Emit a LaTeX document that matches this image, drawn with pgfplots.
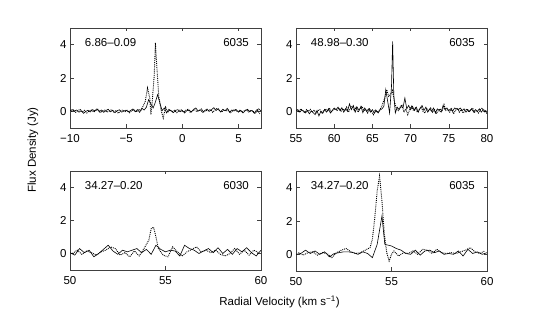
\documentclass[border=0pt]{standalone}
\usepackage{fontspec}
\setmainfont{Liberation Sans}
\usepackage{pgfplots}
\pgfplotsset{compat=1.18}
\newcommand{\fs}{\fontsize{11.5}{13}\selectfont}
\pgfplotsset{
  panel/.style={
    scale only axis, width=191pt, height=100pt, anchor=south west,
    ymin=-1, ymax=5, ytick={0,2,4},
    axis line style={black!75, line width=0.6pt},
    tick style={black!75, line width=0.6pt},
    major tick length=3.5pt,
    tick label style={font=\fs},
    xticklabel style={yshift=-3pt},
    /pgf/number format/assume math mode=true,
    clip=true,
  },
  sol/.style={black, line width=0.6pt, mark=none},
  dot/.style={black, densely dotted, line width=0.9pt, mark=none},
}
\begin{document}
\begin{tikzpicture}
\useasboundingbox (0pt,0pt) rectangle (539pt,312pt);
% ---------- panel 1 ----------
\begin{axis}[panel, at={(70pt,184pt)}, xmin=-10, xmax=7, xtick={-10,-5,0,5}, xticklabels={−10,−5,0,5}]
\addplot[sol] coordinates {
(-10.0,0.05) (-9.8,0.10) (-9.6,0.02) (-9.4,0.08) (-9.2,-0.05) (-9.0,0.04) (-8.8,-0.12) (-8.6,0.00) (-8.4,0.06) (-8.2,-0.04)
(-8.0,0.10) (-7.8,0.03) (-7.6,0.15) (-7.4,-0.02) (-7.2,0.08) (-7.0,-0.06) (-6.8,0.05) (-6.6,0.12) (-6.4,-0.03) (-6.2,0.06)
(-6.0,-0.08) (-5.8,0.04) (-5.6,0.09) (-5.4,-0.05) (-5.2,0.02) (-5.0,0.07) (-4.8,-0.04) (-4.6,0.05) (-4.4,0.14) (-4.2,-0.02)
(-4.0,0.10) (-3.8,-0.06) (-3.6,0.18) (-3.4,0.08) (-3.2,0.25) (-3.0,0.70) (-2.8,0.45) (-2.6,0.20) (-2.4,0.55) (-2.2,1.00)
(-2.0,0.50) (-1.8,0.05) (-1.6,0.20) (-1.4,-0.10) (-1.2,0.12) (-1.0,0.03) (-0.8,-0.08) (-0.6,0.06) (-0.4,0.10) (-0.2,-0.03)
(0.0,0.05) (0.2,-0.10) (0.4,0.04) (0.6,0.08) (0.8,-0.05) (1.0,0.12) (1.2,0.20) (1.4,0.02) (1.6,0.09) (1.8,-0.06)
(2.0,0.05) (2.2,0.14) (2.4,0.00) (2.6,0.10) (2.8,0.22) (3.0,0.05) (3.2,0.16) (3.4,-0.04) (3.6,0.12) (3.8,0.03)
(4.0,0.18) (4.2,-0.06) (4.4,0.08) (4.6,0.02) (4.8,0.10) (5.0,-0.05) (5.2,0.06) (5.4,-0.10) (5.6,0.04) (5.8,0.12)
(6.0,-0.02) (6.2,0.05) (6.4,-0.12) (6.6,0.08) (6.8,0.15) (7.0,0.02)};
\addplot[dot] coordinates {
(-9.9,0.00) (-9.7,0.08) (-9.5,-0.06) (-9.3,0.04) (-9.1,0.12) (-8.9,-0.04) (-8.7,0.06) (-8.5,-0.10) (-8.3,0.02) (-8.1,0.09)
(-7.9,-0.05) (-7.7,0.04) (-7.5,0.11) (-7.3,-0.08) (-7.1,0.03) (-6.9,0.07) (-6.7,-0.05) (-6.5,0.02) (-6.3,0.10) (-6.1,-0.04)
(-5.9,0.05) (-5.7,-0.12) (-5.5,0.03) (-5.3,0.08) (-5.1,-0.02) (-4.9,0.06) (-4.7,-0.08) (-4.5,0.04) (-4.3,0.09) (-4.1,-0.05)
(-3.9,0.12) (-3.7,0.05) (-3.5,0.30) (-3.3,0.60) (-3.1,1.40) (-2.9,0.80) (-2.8,-0.20) (-2.7,0.40) (-2.5,2.20) (-2.4,4.10) (-2.3,3.00)
(-2.1,0.90) (-1.9,0.10) (-1.7,-0.40) (-1.5,0.25) (-1.3,-0.05) (-1.1,0.08) (-0.9,-0.02) (-0.7,0.06) (-0.5,-0.08) (-0.3,0.04)
(-0.1,0.10) (0.1,-0.04) (0.3,0.06) (0.5,0.12) (0.7,-0.06) (0.9,0.03) (1.1,0.09) (1.3,-0.02) (1.5,0.05) (1.7,0.14)
(1.9,-0.04) (2.1,0.06) (2.3,0.02) (2.5,0.11) (2.7,-0.06) (2.9,0.08) (3.1,0.18) (3.3,0.04) (3.5,-0.05) (3.7,0.10)
(3.9,0.02) (4.1,0.08) (4.3,-0.08) (4.5,0.05) (4.7,0.12) (4.9,-0.03) (5.1,0.06) (5.3,-0.06) (5.5,0.03) (5.7,0.09)
(5.9,-0.04) (6.1,0.07) (6.3,0.00) (6.5,-0.10) (6.7,0.05) (6.9,-0.15)};
\node[font=\fs, anchor=west] at (axis description cs:0.06,0.85) {6.86–0.09};
\node[font=\fs, anchor=east] at (axis description cs:0.955,0.85) {6035};
\end{axis}
% ---------- panel 2 ----------
\begin{axis}[panel, at={(296pt,184pt)}, xmin=55, xmax=80, xtick={55,60,65,70,75,80}]
\addplot[sol] coordinates {
(55.00,0.05) (55.25,0.10) (55.50,-0.05) (55.75,0.08) (56.00,0.00) (56.25,-0.10) (56.50,0.05) (56.75,-0.15) (57.00,0.02) (57.25,-0.08)
(57.50,-0.20) (57.75,0.05) (58.00,-0.28) (58.25,0.00) (58.50,-0.12) (58.75,0.10) (59.00,-0.05) (59.25,0.15) (59.50,-0.10) (59.75,0.05)
(60.00,0.20) (60.25,0.10) (60.50,0.25) (60.75,0.05) (61.00,0.22) (61.25,-0.05) (61.50,0.15) (61.75,0.00) (62.00,0.45) (62.25,0.10)
(62.50,0.35) (62.75,-0.05) (63.00,0.25) (63.25,0.05) (63.50,0.30) (63.75,-0.08) (64.00,0.20) (64.25,0.00) (64.50,0.15) (64.75,-0.05)
(65.00,0.10) (65.25,-0.12) (65.50,0.05) (65.75,-0.10) (66.00,0.08) (66.25,0.15) (66.50,0.30) (66.75,1.30) (67.00,0.60) (67.25,-0.10)
(67.50,1.50) (67.65,4.20) (67.80,1.00) (68.00,-0.10) (68.25,0.25) (68.50,0.10) (68.75,0.30) (69.00,0.20) (69.25,0.80) (69.50,0.15)
(69.75,0.35) (70.00,0.10) (70.25,0.30) (70.50,0.05) (70.75,0.25) (71.00,-0.05) (71.25,0.20) (71.50,0.35) (71.75,0.05) (72.00,0.25)
(72.25,-0.05) (72.50,0.15) (72.75,0.00) (73.00,0.20) (73.25,-0.10) (73.50,0.15) (73.75,0.05) (74.00,-0.05) (74.25,0.35) (74.50,0.10)
(74.75,0.20) (75.00,0.05) (75.25,0.15) (75.50,0.00) (75.75,0.20) (76.00,0.15) (76.25,0.10) (76.50,0.20) (76.75,0.05) (77.00,0.15)
(77.25,-0.05) (77.50,0.10) (77.75,0.00) (78.00,0.15) (78.25,-0.05) (78.50,0.10) (78.75,0.00) (79.00,0.15) (79.25,-0.05) (79.50,0.10)
(79.75,0.05) (80.00,-0.15)};
\addplot[dot] coordinates {
(55.125,0.10) (55.375,-0.05) (55.625,0.15) (55.875,0.05) (56.125,-0.08) (56.375,0.10) (56.625,0.00) (56.875,0.12) (57.125,-0.05) (57.375,0.08)
(57.625,-0.10) (57.875,0.05) (58.125,0.10) (58.375,-0.08) (58.625,0.05) (58.875,0.15) (59.125,0.00) (59.375,0.20) (59.625,-0.05) (59.875,0.10)
(60.125,0.15) (60.375,0.05) (60.625,0.20) (60.875,-0.02) (61.125,0.15) (61.375,0.05) (61.625,0.25) (61.875,-0.05) (62.125,0.20) (62.375,0.30)
(62.625,0.05) (62.875,0.25) (63.125,-0.05) (63.375,0.15) (63.625,0.30) (63.875,0.05) (64.125,0.10) (64.375,-0.10) (64.625,0.15) (64.875,0.00)
(65.125,-0.20) (65.375,0.10) (65.625,-0.05) (65.875,0.05) (66.125,0.20) (66.375,0.50) (66.625,0.80) (66.875,1.30) (67.125,0.90) (67.375,1.00)
(67.625,1.25) (67.875,0.60) (68.125,0.20) (68.375,0.05) (68.625,0.25) (68.875,0.40) (69.125,-0.05) (69.375,0.15) (69.625,-0.20) (69.875,0.10)
(70.125,0.30) (70.375,0.05) (70.625,0.20) (70.875,-0.05) (71.125,0.10) (71.375,0.25) (71.625,0.00) (71.875,-0.10) (72.125,0.15) (72.375,0.05)
(72.625,0.20) (72.875,-0.05) (73.125,0.10) (73.375,-0.15) (73.625,0.05) (73.875,0.15) (74.125,0.00) (74.375,0.40) (74.625,0.05) (74.875,0.10)
(75.125,-0.05) (75.375,0.15) (75.625,-0.15) (75.875,0.05) (76.125,0.20) (76.375,-0.05) (76.625,0.10) (76.875,-0.10) (77.125,0.05) (77.375,0.15)
(77.625,-0.05) (77.875,0.10) (78.125,0.20) (78.375,-0.05) (78.625,0.05) (78.875,-0.10) (79.125,0.10) (79.375,0.20) (79.625,-0.05) (79.875,0.05)};
\node[font=\fs, anchor=west] at (axis description cs:0.06,0.85) {48.98–0.30};
\node[font=\fs, anchor=east] at (axis description cs:0.955,0.85) {6035};
\end{axis}
% ---------- panel 3 ----------
\begin{axis}[panel, at={(70pt,42pt)}, height=99pt, xmin=50, xmax=60, xtick={50,55,60}]
\addplot[sol] coordinates {
(50.00,0.05) (50.25,-0.10) (50.50,0.30) (50.75,0.05) (51.00,0.20) (51.25,-0.20) (51.50,0.00) (51.75,0.25) (52.00,0.50) (52.25,0.15)
(52.50,-0.05) (52.75,0.20) (53.00,0.10) (53.25,0.20) (53.50,0.30) (53.75,0.05) (54.00,0.25) (54.25,-0.05) (54.50,0.50) (54.75,0.25)
(55.00,0.10) (55.25,0.20) (55.50,0.15) (55.75,-0.15) (56.00,0.50) (56.25,0.30) (56.50,0.20) (56.75,0.00) (57.00,0.15) (57.25,0.30)
(57.50,0.05) (57.75,0.35) (58.00,0.00) (58.25,0.25) (58.50,-0.05) (58.75,0.30) (59.00,0.10) (59.25,0.35) (59.50,0.05) (59.75,-0.15)
(60.00,0.20)};
\addplot[dot] coordinates {
(50.125,0.00) (50.375,0.20) (50.625,-0.05) (50.875,0.15) (51.125,0.05) (51.375,-0.10) (51.625,0.10) (51.875,0.20) (52.125,0.40) (52.375,0.30)
(52.625,-0.10) (52.875,0.05) (53.125,-0.20) (53.375,0.15) (53.625,-0.15) (53.875,0.30) (54.125,0.80) (54.25,1.50) (54.375,1.60) (54.50,1.00)
(54.625,0.30) (54.875,-0.10) (55.125,-0.20) (55.375,0.40) (55.625,0.10) (55.875,-0.15) (56.125,0.10) (56.375,0.25) (56.625,0.40) (56.875,0.10)
(57.125,0.20) (57.375,0.05) (57.625,0.20) (57.875,-0.05) (58.125,-0.15) (58.375,0.00) (58.625,0.30) (58.875,-0.05) (59.125,0.20) (59.375,-0.10)
(59.625,0.20) (59.875,0.05)};
\node[font=\fs, anchor=west] at (axis description cs:0.06,0.85) {34.27–0.20};
\node[font=\fs, anchor=east] at (axis description cs:0.955,0.85) {6030};
\end{axis}
% ---------- panel 4 ----------
\begin{axis}[panel, at={(296pt,41pt)}, xmin=50, xmax=60, xtick={50,55,60}]
\addplot[sol] coordinates {
(50.00,0.00) (50.25,0.05) (50.50,0.25) (50.75,0.05) (51.00,0.20) (51.25,0.00) (51.50,0.15) (51.75,-0.15) (52.00,0.05) (52.25,0.10)
(52.50,0.15) (52.75,0.15) (53.00,0.10) (53.25,0.00) (53.50,0.15) (53.75,0.05) (54.00,-0.20) (54.25,0.60) (54.50,2.30) (54.65,0.60)
(55.00,0.50) (55.25,0.35) (55.50,0.25) (55.75,0.05) (56.00,0.00) (56.25,0.25) (56.50,-0.05) (56.75,0.20) (57.00,0.25) (57.25,0.10)
(57.50,0.20) (57.75,0.00) (58.00,0.05) (58.25,0.00) (58.50,0.20) (58.75,-0.10) (59.00,0.30) (59.25,0.05) (59.50,0.15) (59.75,0.00)
(60.00,0.10)};
\addplot[dot] coordinates {
(50.125,0.10) (50.375,-0.05) (50.625,0.10) (50.875,0.15) (51.125,-0.05) (51.375,0.10) (51.625,0.05) (51.875,-0.20) (52.125,0.10) (52.375,0.25)
(52.625,0.35) (52.875,0.15) (53.125,0.05) (53.375,0.10) (53.625,0.25) (53.875,0.40) (54.00,0.90) (54.125,2.20) (54.25,3.80) (54.375,4.70)
(54.50,3.20) (54.625,1.20) (54.75,0.10) (54.875,-0.40) (55.00,0.00) (55.125,0.20) (55.375,-0.10) (55.625,0.10) (55.875,0.05) (56.125,0.20)
(56.375,0.00) (56.625,0.30) (56.875,0.25) (57.125,0.05) (57.375,0.30) (57.625,0.10) (57.875,0.05) (58.125,0.10) (58.375,0.05) (58.625,0.15)
(58.875,0.25) (59.125,0.40) (59.375,0.15) (59.625,0.05) (59.875,0.20)};
\node[font=\fs, anchor=west] at (axis description cs:0.06,0.85) {34.27–0.20};
\node[font=\fs, anchor=east] at (axis description cs:0.955,0.85) {6035};
\end{axis}
\node[font=\fs, rotate=90] at (33pt,162pt) {Flux Density (Jy)};
\node[font=\fs] at (279.5pt,10pt) {Radial Velocity (km s\textsuperscript{−1})};
\end{tikzpicture}
\end{document}
